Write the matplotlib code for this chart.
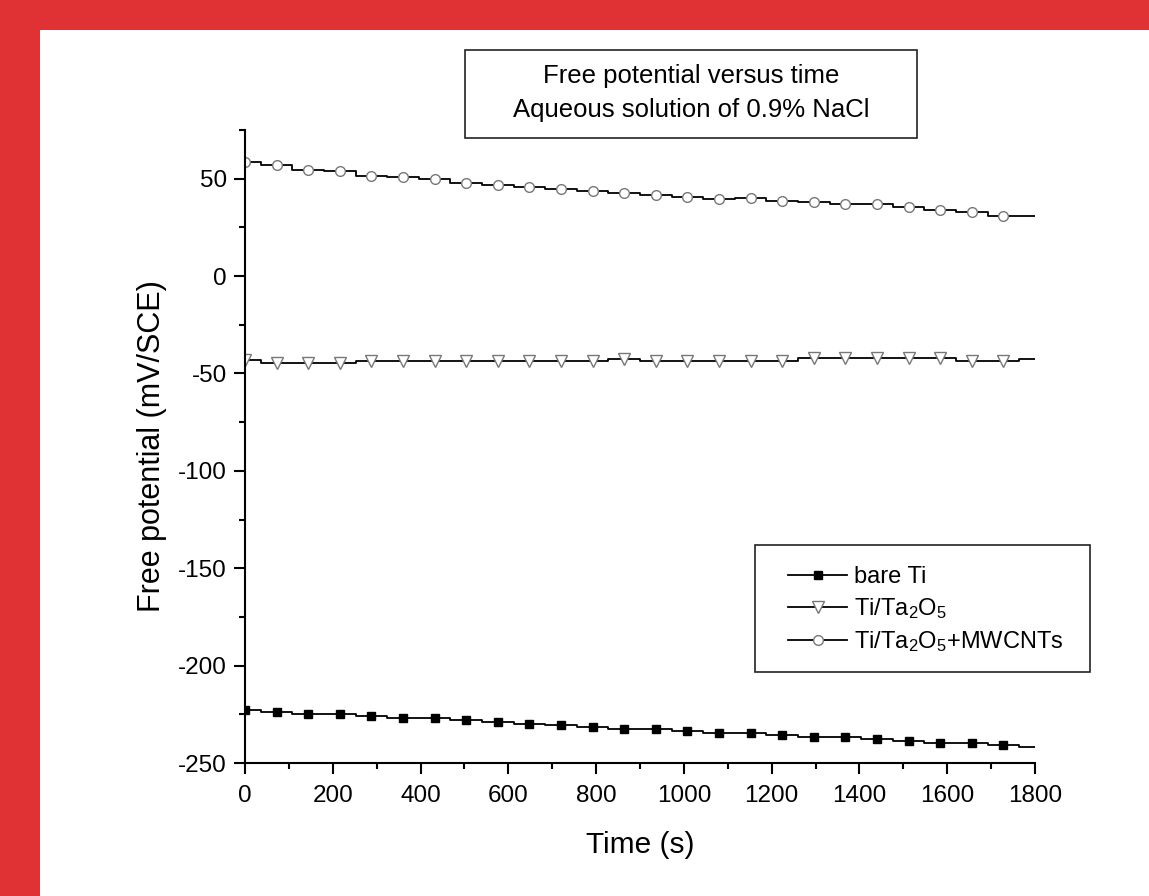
import matplotlib
matplotlib.use("Agg")
import matplotlib.pyplot as plt
from matplotlib.patches import Rectangle
from matplotlib.ticker import MultipleLocator

plt.rcParams["font.family"] = ["Liberation Sans", "DejaVu Sans"]
plt.rcParams["mathtext.default"] = "regular"
plt.rcParams["axes.unicode_minus"] = False

# time points of the plotted markers (s); last value is the end of the trace
time_s = [0, 72, 144, 216, 288, 360, 432, 504, 576, 648, 720, 792, 864,
          936, 1008, 1080, 1152, 1224, 1296, 1368, 1440, 1512, 1584, 1656,
          1728, 1800]

bare_ti = [-222.8, -223.8, -224.7, -224.7, -225.9, -226.7, -226.7, -227.9,
           -228.8, -229.8, -230.5, -231.7, -232.7, -232.7, -233.7, -234.8,
           -234.6, -235.6, -236.7, -236.7, -237.7, -238.7, -239.6, -239.6,
           -240.6, -241.7]

ti_ta2o5 = [-43.0, -44.6, -44.6, -44.4, -43.6, -43.6, -43.6, -43.6, -43.6,
            -43.6, -43.6, -43.6, -42.4, -43.6, -43.5, -43.6, -43.6, -43.6,
            -42.3, -42.3, -42.3, -42.3, -42.3, -43.6, -43.6, -42.7]

ti_ta2o5_mwcnt = [58.6, 56.8, 54.6, 53.8, 51.5, 50.7, 49.6, 47.6, 46.8, 45.7,
                  44.7, 43.7, 42.8, 41.8, 40.7, 39.7, 39.9, 38.7, 37.8, 36.8,
                  37.0, 35.6, 34.0, 33.0, 30.8, 30.6]

labels = ["bare Ti", "Ti/Ta$_2$O$_5$", "Ti/Ta$_2$O$_5$+MWCNTs"]

W, H = 1149, 896
fig = plt.figure(figsize=(W / 100, H / 100), dpi=100, facecolor="#E03234")

# white page inside the red frame
fig.patches.append(Rectangle((40 / W, 0), 1 - 40 / W, 1 - 30 / H,
                             transform=fig.transFigure, facecolor="white",
                             edgecolor="none", zorder=-10))

ax = fig.add_axes([245 / W, 1 - 763 / H, 790 / W, 633 / H])
ax.set_zorder(3)
ax.set_facecolor("none")

# last point has no marker: markevery skips it
marks = list(range(len(time_s) - 1))
ax.plot(time_s, bare_ti, color="black", lw=1.3, drawstyle="steps-mid",
        marker="s", ms=6, mfc="black", mec="black", markevery=marks,
        label=labels[0])
ax.plot(time_s, ti_ta2o5, color="black", lw=1.3, drawstyle="steps-mid",
        marker="v", ms=8, mfc="white", mec="#777777", mew=1.0,
        markevery=marks, label=labels[1])
ax.plot(time_s, ti_ta2o5_mwcnt, color="black", lw=1.3, drawstyle="steps-mid",
        marker="o", ms=7, mfc="white", mec="#777777", mew=1.0,
        markevery=marks, label=labels[2])

ax.set_xlim(0, 1800)
ax.set_ylim(-250, 75)
ax.xaxis.set_major_locator(MultipleLocator(200))
ax.xaxis.set_minor_locator(MultipleLocator(100))
ax.yaxis.set_major_locator(MultipleLocator(50))
ax.yaxis.set_minor_locator(MultipleLocator(25))

for side in ("top", "right"):
    ax.spines[side].set_visible(False)
for side in ("left", "bottom"):
    ax.spines[side].set_linewidth(1.5)

ax.tick_params(which="major", direction="out", length=8, width=1.5,
               labelsize=17.5)
ax.tick_params(axis="x", which="major", pad=8)
ax.tick_params(axis="y", which="major", pad=5)
ax.tick_params(which="minor", direction="out", length=4.5, width=1.5)

ax.set_xlabel("Time (s)", fontsize=21.5, labelpad=17)
ax.set_ylabel("Free potential (mV/SCE)", fontsize=22, labelpad=8)

# legend entries without frame, frame drawn separately (Origin style)
leg = ax.legend(loc="upper left", bbox_to_anchor=(788 / W, 1 - 566 / H),
                bbox_transform=fig.transFigure, fontsize=17, frameon=False,
                handlelength=2.5, handletextpad=0.3, borderpad=0,
                labelspacing=0.35, borderaxespad=0)
fig.patches.append(Rectangle((755 / W, 1 - 672 / H), 335 / W, 127 / H,
                             transform=fig.transFigure, facecolor="white",
                             edgecolor="#222222", lw=1.2, zorder=1))

# boxed title
fig.patches.append(Rectangle((465 / W, 1 - 138 / H), 452 / W, 88 / H,
                             transform=fig.transFigure, facecolor="white",
                             edgecolor="#222222", lw=1.2, zorder=1))
fig.text(691 / W, 1 - 76 / H, "Free potential versus time", ha="center",
         va="center", fontsize=18.5, zorder=2)
fig.text(691 / W, 1 - 110 / H, "Aqueous solution of 0.9% NaCl", ha="center",
         va="center", fontsize=18.5, zorder=2)

fig.savefig("out.png", dpi=100, facecolor=fig.get_facecolor())
